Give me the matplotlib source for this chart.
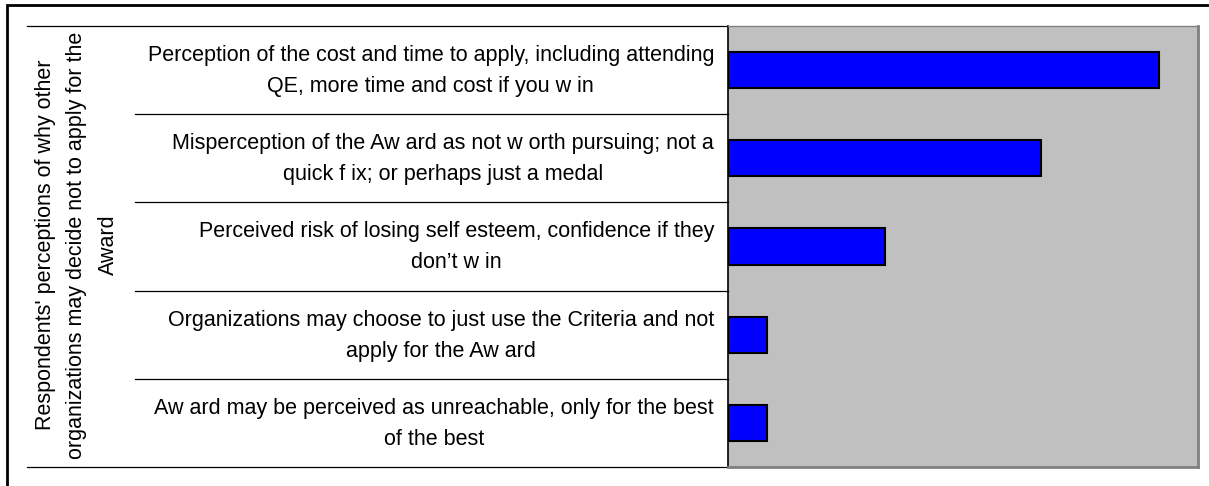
import matplotlib
matplotlib.use("Agg")
import matplotlib.pyplot as plt
from matplotlib.patches import Rectangle
from matplotlib.transforms import blended_transform_factory

plt.rcParams['font.family'] = ['Liberation Sans', 'DejaVu Sans']

# data (top to bottom)
reasons = [
    "Perception of the cost and time to apply, including attending\nQE, more time and cost if you w in",
    "Misperception of the Aw ard as not w orth pursuing; not a\nquick f ix; or perhaps just a medal",
    "Perceived risk of losing self esteem, confidence if they\ndon\u2019t w in",
    "Organizations may choose to just use the Criteria and not\napply for the Aw ard",
    "Aw ard may be perceived as unreachable, only for the best\nof the best",
]
counts = [11, 8, 4, 1, 1]
y_title = ("Respondents' perceptions of why other\n"
           "organizations may decide not to apply for the\nAward")

fig = plt.figure(figsize=(12.09, 4.86), dpi=100)
ax = fig.add_axes([728 / 1209, 1 - 467 / 486, 470 / 1209, 441 / 486])

pos = list(range(len(counts)))
ax.barh(pos, counts, height=0.41, color='#0000FF', edgecolor='black', linewidth=1.5, zorder=3)
ax.set_xlim(0, 12)
ax.set_ylim(len(counts) - 0.5, -0.5)
ax.set_facecolor('#C0C0C0')
ax.set_xticks([])
ax.set_yticks([])
for side in ['top', 'right', 'bottom']:
    ax.spines[side].set_color('#808080')
ax.spines['right'].set_linewidth(2)
ax.spines['bottom'].set_linewidth(2)
ax.spines['top'].set_linewidth(1)
ax.spines['left'].set_color('black')
ax.spines['left'].set_linewidth(1.2)

# category labels and table lines on the left
tr = blended_transform_factory(fig.transFigure, ax.transData)
for i, lab in enumerate(reasons):
    fig.text(714 / 1209, i + 0.01, lab, transform=tr, ha='right', va='center',
             multialignment='center', fontsize=15.5, linespacing=1.62)
for b in range(1, len(counts)):
    ax.plot([135 / 1209, 728 / 1209], [b - 0.5, b - 0.5], transform=tr,
            color='black', lw=0.9, clip_on=False)
for b in [-0.5, len(counts) - 0.5]:
    ax.plot([27 / 1209, 728 / 1209], [b, b], transform=tr,
            color='black', lw=0.9, clip_on=False)

fig.text(77 / 1209, 1 - 245 / 486, y_title, rotation=90, ha='center', va='center',
         multialignment='center', fontsize=15.5, linespacing=1.66)

# outer frame
fig.patches.append(Rectangle((7 / 1209, -0.05), 1.1, 1 - 5 / 486 + 0.05,
                             transform=fig.transFigure, fill=False,
                             edgecolor='black', linewidth=2))

fig.savefig('out.png', dpi=100)
